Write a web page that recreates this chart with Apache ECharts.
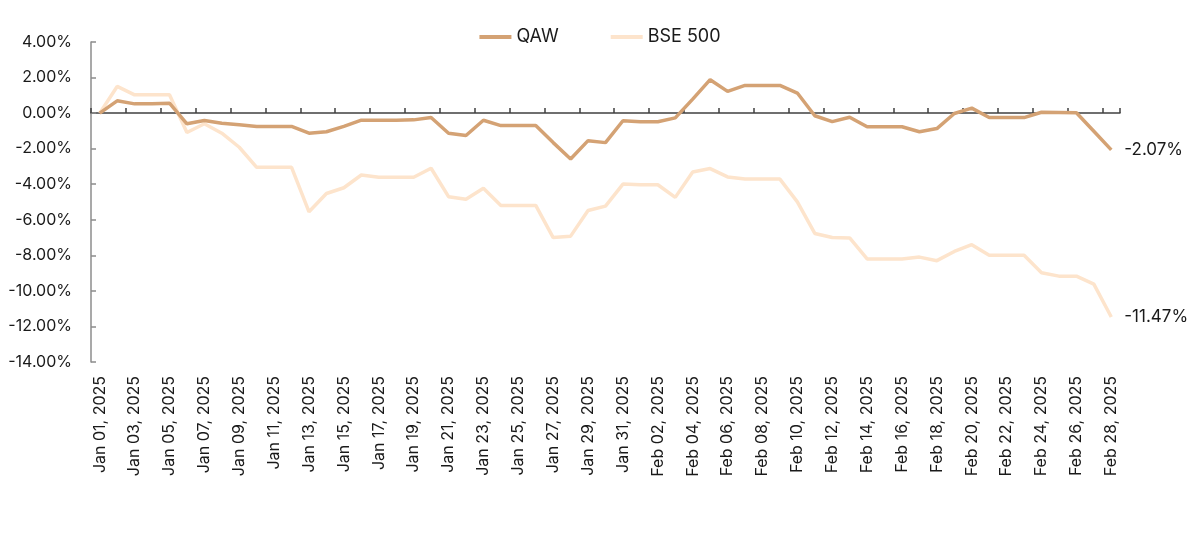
<!DOCTYPE html>
<html>
<head>
<meta charset="utf-8">
<script src="https://cdn.jsdelivr.net/npm/echarts@6/dist/echarts.min.js"></script>
<style>
html,body{margin:0;padding:0;background:#fff;}
#chart{width:1200px;height:545px;}
</style>
</head>
<body>
<div id="chart"></div>
<script>
const dates = [
 "Jan 01, 2025","Jan 02, 2025","Jan 03, 2025","Jan 04, 2025","Jan 05, 2025","Jan 06, 2025","Jan 07, 2025","Jan 08, 2025","Jan 09, 2025","Jan 10, 2025",
 "Jan 11, 2025","Jan 12, 2025","Jan 13, 2025","Jan 14, 2025","Jan 15, 2025","Jan 16, 2025","Jan 17, 2025","Jan 18, 2025","Jan 19, 2025","Jan 20, 2025",
 "Jan 21, 2025","Jan 22, 2025","Jan 23, 2025","Jan 24, 2025","Jan 25, 2025","Jan 26, 2025","Jan 27, 2025","Jan 28, 2025","Jan 29, 2025","Jan 30, 2025",
 "Jan 31, 2025","Feb 01, 2025","Feb 02, 2025","Feb 03, 2025","Feb 04, 2025","Feb 05, 2025","Feb 06, 2025","Feb 07, 2025","Feb 08, 2025","Feb 09, 2025",
 "Feb 10, 2025","Feb 11, 2025","Feb 12, 2025","Feb 13, 2025","Feb 14, 2025","Feb 15, 2025","Feb 16, 2025","Feb 17, 2025","Feb 18, 2025","Feb 19, 2025",
 "Feb 20, 2025","Feb 21, 2025","Feb 22, 2025","Feb 23, 2025","Feb 24, 2025","Feb 25, 2025","Feb 26, 2025","Feb 27, 2025","Feb 28, 2025"
];
const qaw = [
 0.00, 0.69, 0.52, 0.52, 0.56, -0.60, -0.42, -0.57, -0.66, -0.75,
 -0.75, -0.75, -1.13, -1.05, -0.75, -0.40, -0.40, -0.40, -0.38, -0.25,
 -1.13, -1.26, -0.40, -0.70, -0.70, -0.70, -1.66, -2.58, -1.55, -1.66,
 -0.43, -0.49, -0.49, -0.27, 0.79, 1.88, 1.22, 1.56, 1.56, 1.56,
 1.13, -0.15, -0.48, -0.23, -0.77, -0.77, -0.77, -1.05, -0.87, -0.02,
 0.28, -0.25, -0.25, -0.25, 0.05, 0.04, 0.02, -1.02, -2.07
];
const bse500 = [
 0.00, 1.50, 1.03, 1.03, 1.03, -1.09, -0.60, -1.13, -1.92, -3.05,
 -3.05, -3.05, -5.55, -4.52, -4.20, -3.48, -3.61, -3.61, -3.61, -3.10,
 -4.70, -4.84, -4.23, -5.19, -5.19, -5.19, -7.00, -6.92, -5.48, -5.23,
 -3.99, -4.03, -4.03, -4.74, -3.31, -3.12, -3.59, -3.71, -3.71, -3.71,
 -4.99, -6.77, -7.00, -7.02, -8.20, -8.20, -8.20, -8.10, -8.30, -7.78,
 -7.40, -8.00, -8.00, -8.00, -8.98, -9.17, -9.17, -9.62, -11.47
];
const seriesNames = ["QAW", "BSE 500"];
const yTicks = { min: -14, max: 4, step: 2 };

const FONT = 'Inter, "Noto Sans", sans-serif';
const chart = echarts.init(document.getElementById('chart'), null, {renderer: 'canvas'});
const pct = v => v.toFixed(2) + '%';

chart.setOption({
  animation: false,
  textStyle: { fontFamily: FONT },
  legend: {
    top: 23,
    left: 'center',
    data: seriesNames,
    icon: 'rect',
    itemWidth: 32,
    itemHeight: 4,
    itemGap: 52,
    textStyle: { fontSize: 18, color: '#1a1a1a', fontFamily: FONT }
  },
  grid: { left: 91, right: 80, top: 42, bottom: 183, containLabel: false },
  xAxis: [
    {
      type: 'category',
      data: dates,
      boundaryGap: true,
      position: 'bottom',
      axisLine: { show: false, onZero: false },
      axisTick: { show: false },
      axisLabel: {
        interval: 1,
        rotate: 90,
        margin: 14,
        fontSize: 16,
        color: '#1a1a1a',
        fontFamily: FONT
      },
      splitLine: { show: false }
    },
    {
      type: 'category',
      data: dates,
      boundaryGap: true,
      position: 'bottom',
      axisLine: { show: true, onZero: true, lineStyle: { color: '#404040', width: 1.5 } },
      axisTick: { show: true, inside: true, interval: 1, length: 5, lineStyle: { color: '#404040', width: 1.5 } },
      axisLabel: { show: false },
      splitLine: { show: false }
    }
  ],
  yAxis: {
    type: 'value',
    min: yTicks.min,
    max: yTicks.max,
    interval: yTicks.step,
    axisLine: { show: true, lineStyle: { color: '#8c8c8c', width: 1.5 } },
    axisTick: { show: true, inside: true, length: 5, lineStyle: { color: '#8c8c8c', width: 1.5 } },
    splitLine: { show: false },
    axisLabel: {
      formatter: v => pct(v),
      fontSize: 16,
      margin: 19,
      color: '#1a1a1a',
      fontFamily: FONT
    }
  },
  series: [
    {
      name: seriesNames[0],
      type: 'line',
      xAxisIndex: 0,
      data: qaw,
      symbol: 'none',
      z: 4,
      lineStyle: { color: '#D4A274', width: 3.5 },
      itemStyle: { color: '#D4A274' },
      endLabel: {
        show: true,
        formatter: p => pct(p.value),
        distance: 13,
        fontSize: 17,
        color: '#1a1a1a',
        fontFamily: FONT
      }
    },
    {
      name: seriesNames[1],
      type: 'line',
      xAxisIndex: 0,
      data: bse500,
      symbol: 'none',
      z: 3,
      lineStyle: { color: '#FDE4CC', width: 3.5 },
      itemStyle: { color: '#FDE4CC' },
      endLabel: {
        show: true,
        formatter: p => pct(p.value),
        distance: 13,
        fontSize: 17,
        color: '#1a1a1a',
        fontFamily: FONT
      }
    }
  ]
});
</script>
</body>
</html>
